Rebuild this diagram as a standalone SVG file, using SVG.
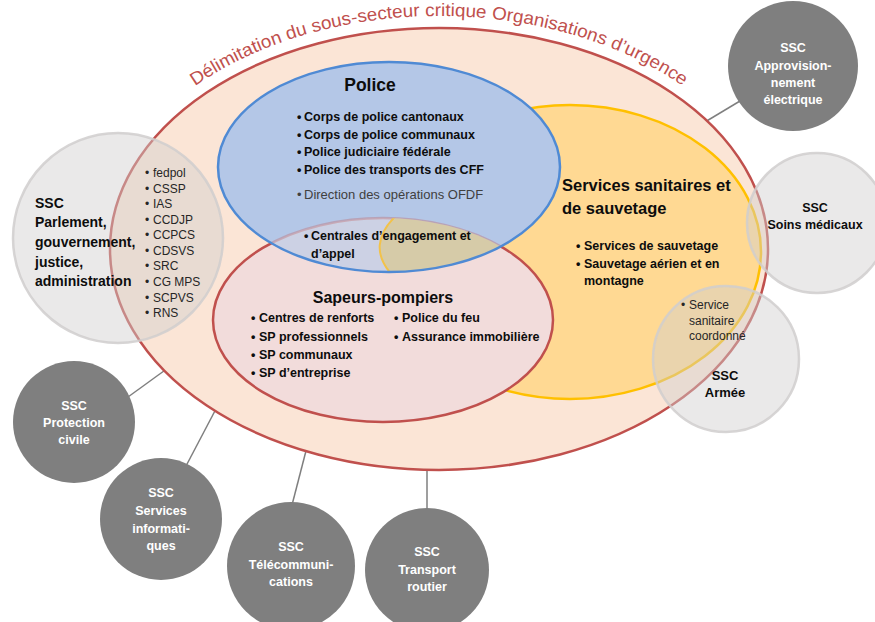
<svg xmlns="http://www.w3.org/2000/svg" width="875" height="622" viewBox="0 0 875 622">
<style>
text{font-family:'Liberation Sans',Arial,sans-serif}
.b{font-weight:bold}
.w{fill:#ffffff;font-weight:bold;font-size:12.5px;text-anchor:middle}
.dk{fill:#7f7f7f}
.lt{fill:#d0cece;fill-opacity:0.45;stroke:#d0cece;stroke-opacity:0.85;stroke-width:2.5}
.con{stroke:#7f7f7f;stroke-width:1.5;fill:none}
.li{font-size:12.5px;font-weight:bold;fill:#0d0d0d}
.sm{font-size:12px;fill:#262626}
.h{font-weight:bold;fill:#0d0d0d}
.ttl{font-size:18px;fill:#c0504d}
</style>
<defs>
<path id="arc" d="M177.8,99.2 A341,233 0 0 1 700.2,99.2"/>
<clipPath id="cBlue"><ellipse cx="389" cy="167" rx="171" ry="105"/></clipPath>
<clipPath id="cRed"><ellipse cx="383" cy="320" rx="170" ry="102"/></clipPath>
</defs>

<g id="connectors">
<line class="con" x1="700" y1="125" x2="740" y2="101"/>
<line class="con" x1="128" y1="397" x2="168" y2="368"/>
<line class="con" x1="186" y1="466" x2="217" y2="407"/>
<line class="con" x1="292" y1="505" x2="307" y2="447"/>
<line class="con" x1="427" y1="467" x2="427" y2="509"/>
</g>

<g id="sous-secteur">
<ellipse cx="439" cy="249" rx="329" ry="221" fill="#fbe5d6" stroke="#c0504d" stroke-width="2.5"/>
<text class="ttl"><textPath href="#arc" startOffset="21.6" textLength="125.1" lengthAdjust="spacingAndGlyphs">Délimitation du</textPath></text>
<text class="ttl"><textPath href="#arc" startOffset="151.9" textLength="296.4" lengthAdjust="spacingAndGlyphs">sous-secteur critique Organisations</textPath></text>
<text class="ttl"><textPath href="#arc" startOffset="453.5" textLength="83" lengthAdjust="spacingAndGlyphs">d’urgence</textPath></text>
</g>

<g id="sanitaires">
<ellipse cx="570" cy="252" rx="191" ry="147" fill="#ffd993" stroke="#ffc000" stroke-width="2.5"/>
</g>

<g id="sapeurs">
<ellipse cx="383" cy="320" rx="170" ry="102" fill="#f2dcdb" stroke="#c0504d" stroke-width="2.5"/>
</g>

<g id="police">
<ellipse cx="389" cy="167" rx="171" ry="105" fill="#b4c7e7"/>
<g clip-path="url(#cBlue)">
<ellipse cx="383" cy="320" rx="170" ry="102" fill="#ccd1e4" stroke="#c0504d" stroke-opacity="0.3" stroke-width="2.5"/>
<g clip-path="url(#cRed)">
<path d="M400,212 Q362,245 395,278 L570,278 L570,205 Z" fill="#d6cba8"/>
<path d="M400,212 Q362,245 395,278" fill="none" stroke="#f2c24a" stroke-width="2"/>
</g>
</g>
<ellipse cx="389" cy="167" rx="171" ry="105" fill="none" stroke="#4f8ad4" stroke-width="2.5"/>
</g>

<g id="police-text">
<text x="370" y="91" text-anchor="middle" font-size="17.5" class="h">Police</text>
<g class="li">
<text x="297" y="121">•</text><text x="304" y="121">Corps de police cantonaux</text>
<text x="297" y="139">•</text><text x="304" y="139">Corps de police communaux</text>
<text x="297" y="156">•</text><text x="304" y="156">Police judiciaire fédérale</text>
<text x="297" y="174">•</text><text x="304" y="174">Police des transports des CFF</text>
<text x="304" y="240">•</text><text x="311" y="240">Centrales d’engagement et</text>
<text x="311" y="258">d’appel</text>
</g>
<text x="297" y="199" font-size="13" fill="#404040">•</text><text x="304" y="199" font-size="13" fill="#404040">Direction des opérations OFDF</text>
</g>

<g id="sapeurs-text">
<text x="383" y="303" text-anchor="middle" font-size="16" class="h">Sapeurs-pompiers</text>
<g class="li">
<text x="251" y="322">•</text><text x="259" y="322">Centres de renforts</text>
<text x="251" y="341">•</text><text x="259" y="341">SP professionnels</text>
<text x="251" y="359">•</text><text x="259" y="359">SP communaux</text>
<text x="251" y="377">•</text><text x="259" y="377">SP d’entreprise</text>
<text x="394" y="322">•</text><text x="402" y="322">Police du feu</text>
<text x="394" y="341">•</text><text x="402" y="341">Assurance immobilière</text>
</g>
</g>

<g id="sanitaires-text">
<text x="562" y="191" font-size="16.5" class="h">Services sanitaires et</text>
<text x="562" y="214" font-size="16.5" class="h">de sauvetage</text>
<g class="li">
<text x="576" y="250">•</text><text x="584" y="250">Services de sauvetage</text>
<text x="576" y="268">•</text><text x="584" y="268">Sauvetage aérien et en</text>
<text x="584" y="285">montagne</text>
</g>
</g>

<g id="ssc-parlement">
<circle class="lt" cx="118" cy="238" r="105"/>
<g class="h" font-size="14">
<text x="35" y="208">SSC</text>
<text x="35" y="227">Parlement,</text>
<text x="35" y="247">gouvernement,</text>
<text x="35" y="267">justice,</text>
<text x="35" y="286">administration</text>
</g>
<g class="sm">
<text x="145" y="177">•</text><text x="153" y="177">fedpol</text>
<text x="145" y="193">•</text><text x="153" y="193">CSSP</text>
<text x="145" y="208">•</text><text x="153" y="208">IAS</text>
<text x="145" y="224">•</text><text x="153" y="224">CCDJP</text>
<text x="145" y="239">•</text><text x="153" y="239">CCPCS</text>
<text x="145" y="255">•</text><text x="153" y="255">CDSVS</text>
<text x="145" y="270">•</text><text x="153" y="270">SRC</text>
<text x="145" y="286">•</text><text x="153" y="286">CG MPS</text>
<text x="145" y="302">•</text><text x="153" y="302">SCPVS</text>
<text x="145" y="317">•</text><text x="153" y="317">RNS</text>
</g>
</g>

<g id="ssc-soins">
<circle class="lt" cx="817" cy="223" r="70"/>
<text x="815" y="212" text-anchor="middle" font-size="12.5" class="h">SSC</text>
<text x="815" y="229" text-anchor="middle" font-size="12.5" class="h">Soins médicaux</text>
</g>

<g id="ssc-armee">
<circle class="lt" cx="726" cy="359" r="73"/>
<text x="725" y="380" text-anchor="middle" font-size="13" class="h">SSC</text>
<text x="725" y="397" text-anchor="middle" font-size="13" class="h">Armée</text>
<g class="sm">
<text x="681" y="309">•</text><text x="689" y="309">Service</text>
<text x="689" y="325">sanitaire</text>
<text x="689" y="340">coordonné</text>
</g>
</g>

<g id="ssc-electrique">
<circle class="dk" cx="793" cy="66" r="65"/>
<text class="w" x="793" y="52">SSC</text>
<text class="w" x="793" y="70">Approvision-</text>
<text class="w" x="793" y="87">nement</text>
<text class="w" x="793" y="104">électrique</text>
</g>

<g id="ssc-protection">
<circle class="dk" cx="74" cy="422" r="61"/>
<text class="w" x="74" y="410">SSC</text>
<text class="w" x="74" y="427">Protection</text>
<text class="w" x="74" y="444">civile</text>
</g>

<g id="ssc-informatique">
<circle class="dk" cx="161" cy="519" r="61"/>
<text class="w" x="161" y="497">SSC</text>
<text class="w" x="161" y="515">Services</text>
<text class="w" x="161" y="533">informati-</text>
<text class="w" x="161" y="550">ques</text>
</g>

<g id="ssc-telecom">
<circle class="dk" cx="291" cy="566" r="64"/>
<text class="w" x="291" y="551">SSC</text>
<text class="w" x="291" y="569">Télécommuni-</text>
<text class="w" x="291" y="586">cations</text>
</g>

<g id="ssc-transport">
<circle class="dk" cx="427" cy="570" r="62"/>
<text class="w" x="427" y="556">SSC</text>
<text class="w" x="427" y="574">Transport</text>
<text class="w" x="427" y="591">routier</text>
</g>
</svg>
